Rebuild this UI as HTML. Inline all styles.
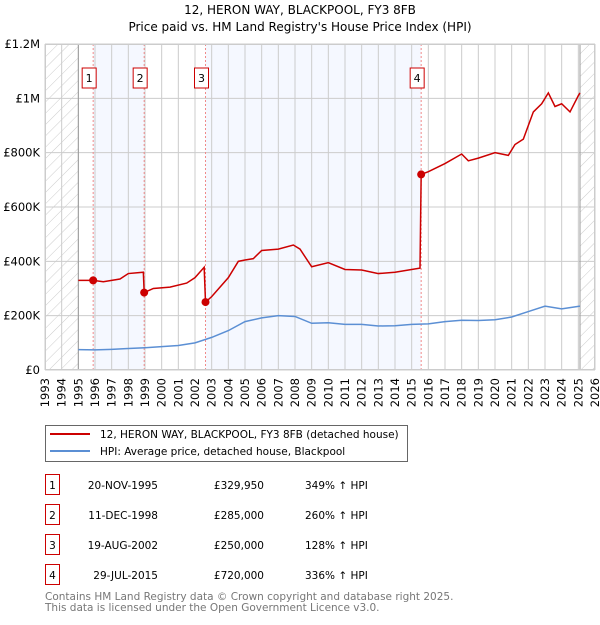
<!DOCTYPE html>
<html><head><meta charset="utf-8"><style>
body{margin:0;background:#fff}
svg text{font-family:"DejaVu Sans","Liberation Sans",sans-serif}
</style></head><body>
<svg id="c" width="600" height="620" xmlns="http://www.w3.org/2000/svg">
<defs><pattern id="h" width="8" height="8" patternUnits="userSpaceOnUse" patternTransform="rotate(45)"><line x1="0" y1="0" x2="0" y2="8" stroke="#ccc" stroke-width="1"/></pattern></defs>
<text x="300" y="14" text-anchor="middle" font-size="12">12, HERON WAY, BLACKPOOL, FY3 8FB</text>
<text x="300" y="31" text-anchor="middle" font-size="12">Price paid vs. HM Land Registry's House Price Index (HPI)</text>
<g id="plot"></g>
<g>
<rect x="45.5" y="425.5" width="362" height="36" fill="#fff" stroke="#666"/>
<line x1="50" y1="434" x2="90" y2="434" stroke="#cc0000" stroke-width="2"/>
<text x="100" y="438" font-size="10.5">12, HERON WAY, BLACKPOOL, FY3 8FB (detached house)</text>
<line x1="50" y1="451" x2="90" y2="451" stroke="#5b8fd4" stroke-width="2"/>
<text x="100" y="455" font-size="10.5">HPI: Average price, detached house, Blackpool</text>
</g>
<g id="table" font-size="10.5"></g>
<text x="45" y="600" font-size="10.5" fill="#777">Contains HM Land Registry data © Crown copyright and database right 2025.</text>
<text x="45" y="611" font-size="10.5" fill="#777">This data is licensed under the Open Government Licence v3.0.</text>
</svg>
<script>
const hpiYears=[1995,1996,1997,1998,1999,2000,2001,2002,2003,2004,2005,2006,2007,2008,2009,2010,2011,2012,2013,2014,2015,2016,2017,2018,2019,2020,2021,2022,2023,2024,2025.1];
const hpiValues=[75,74,76,79,82,86,90,100,120,145,178,192,200,197,172,174,168,168,162,163,168,170,178,183,182,185,195,215,235,225,235];
const redYears=[1995,1995.9,1996.5,1997.5,1998.0,1998.9,1998.95,1999.5,2000.5,2001.5,2002.0,2002.55,2002.63,2003,2004,2004.6,2005,2005.5,2006,2007,2007.9,2008.3,2009,2010,2011,2012,2013,2014,2015.5,2015.57,2016,2017,2018,2018.4,2019,2020,2020.8,2021.2,2021.7,2022.3,2022.8,2023.2,2023.6,2024,2024.5,2025,2025.1];
const redValues=[330,330,325,335,355,360,285,300,305,320,340,378,250,270,340,400,405,410,440,445,460,445,380,395,370,368,355,360,375,720,730,760,795,770,780,800,790,830,850,950,980,1020,970,980,950,1010,1020];
const saleYears=[1995.89,1998.95,2002.63,2015.57];
const saleValues=[329.95,285,250,720];
const saleLabels=["1","2","3","4"];
const saleDates=["20-NOV-1995","11-DEC-1998","19-AUG-2002","29-JUL-2015"];
const salePrices=["£329,950","£285,000","£250,000","£720,000"];
const salePct=["349% ↑ HPI","260% ↑ HPI","128% ↑ HPI","336% ↑ HPI"];
const yTicks=[0,200,400,600,800,1000,1200];
const yTickLabels=["£0","£200K","£400K","£600K","£800K","£1M","£1.2M"];
const X0=45,X1=595,Y0=370,Y1=44,yr0=1993,yr1=2026;
const x=v=>X0+(v-yr0)/(yr1-yr0)*(X1-X0);
const y=v=>Y0-v/1200*(Y0-Y1);
const NS="http://www.w3.org/2000/svg";
const g=document.getElementById('plot');
function mk(tag,at,par){const e=document.createElementNS(NS,tag);for(const k in at)e.setAttribute(k,at[k]);(par||g).appendChild(e);return e;}
let e;
e=mk('rect',{x:x(saleYears[0]),y:Y1,width:x(saleYears[1])-x(saleYears[0]),height:Y0-Y1,fill:'#f5f8ff'});


e=mk('rect',{x:x(saleYears[2]),y:Y1,width:x(saleYears[3])-x(saleYears[2]),height:Y0-Y1,fill:'#f5f8ff'});


e=mk('rect',{x:X0,y:Y1,width:x(1995)-X0,height:Y0-Y1,fill:'url(#h)'});


e=mk('rect',{x:x(2025.1),y:Y1,width:X1-x(2025.1),height:Y0-Y1,fill:'url(#h)'});


for(let yr=yr0;yr<=yr1;yr++){
 e=mk('line',{x1:x(yr),x2:x(yr),y1:Y1,y2:Y0,stroke:'#ccc','stroke-width':1});
 
 
 e=mk('text',{x:0,y:0,transform:`translate(${x(yr)+4},378) rotate(-90)`,'text-anchor':'end','font-size':11.5});
 e.textContent=yr;
 
 
}
yTicks.forEach((t,i)=>{
 e=mk('line',{x1:X0,x2:X1,y1:y(t),y2:y(t),stroke:'#ccc','stroke-width':1});
 
 
 e=mk('text',{x:40,y:y(t)+4,'text-anchor':'end','font-size':11.5});
 e.textContent=yTickLabels[i];
 
 
});
e=mk('line',{x1:x(1995),x2:x(1995),y1:Y1,y2:Y0,stroke:'#999'});


e=mk('line',{x1:x(2025.1),x2:x(2025.1),y1:Y1,y2:Y0,stroke:'#999'});


saleYears.forEach((s,i)=>{
 e=mk('line',{x1:x(s),x2:x(s),y1:Y1,y2:Y0,stroke:'#f08a8a','stroke-width':1,'stroke-dasharray':'2,2'});
 
 
 const bx=x(s)-4;
 e=mk('rect',{x:bx-7,y:68,width:14,height:20,fill:'#fff',stroke:'#cc0000'});
 
 
 e=mk('text',{x:bx,y:82,'text-anchor':'middle','font-size':11});
 e.textContent=saleLabels[i];
 
 
});
e=mk('polyline',{points:hpiYears.map((v,i)=>x(v)+','+y(hpiValues[i])).join(' '),fill:'none',stroke:'#5b8fd4','stroke-width':1.5});


e=mk('polyline',{points:redYears.map((v,i)=>x(v)+','+y(redValues[i])).join(' '),fill:'none',stroke:'#cc0000','stroke-width':1.5});


saleYears.forEach((s,i)=>{
 e=mk('circle',{cx:x(s),cy:y(saleValues[i]),r:4,fill:'#cc0000'});
 
 
});
e=mk('rect',{x:X0+.5,y:Y1+.5,width:X1-X0-1,height:Y0-Y1-1,fill:'none',stroke:'#ccc'});


const tb=document.getElementById('table');
saleLabels.forEach((l,i)=>{
 const ty=483+i*30;
 e=mk('rect',{x:45.5,y:ty-8.5,width:14,height:20,fill:'#fff',stroke:'#cc0000'},tb);
 
 
 e=mk('text',{x:52.5,y:ty+6,'text-anchor':'middle'},tb);e.textContent=l;
 
 
 e=mk('text',{x:158,y:ty+6,'text-anchor':'end'},tb);e.textContent=saleDates[i];
 
 
 e=mk('text',{x:264,y:ty+6,'text-anchor':'end'},tb);e.textContent=salePrices[i];
 
 
 e=mk('text',{x:305,y:ty+6},tb);e.textContent=salePct[i];
 
 
});
</script>
</body></html>
